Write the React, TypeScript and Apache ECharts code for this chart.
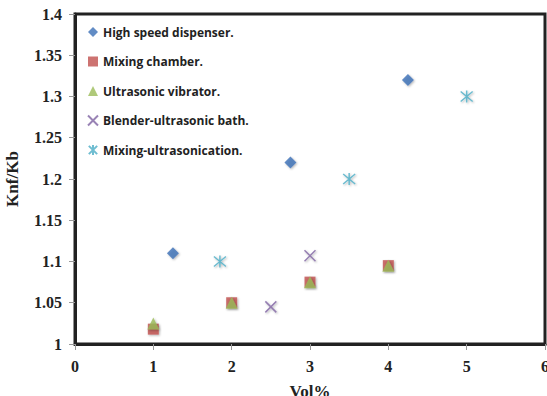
import React, { useEffect, useRef } from "react";
import * as echarts from "echarts";

const seriesNames = [
  "High speed dispenser.",
  "Mixing chamber.",
  "Ultrasonic vibrator.",
  "Blender-ultrasonic bath.",
  "Mixing-ultrasonication.",
];

const highSpeed: [number, number][] = [[1.25, 1.11], [2.75, 1.22], [4.25, 1.32]];
const mixingChamber: [number, number][] = [[1, 1.018], [2, 1.05], [3, 1.075], [4, 1.095]];
const ultrasonicVibrator: [number, number][] = [[1, 1.025], [2, 1.05], [3, 1.075], [4, 1.095]];
const blenderBath: [number, number][] = [[2.5, 1.045], [3, 1.107]];
const mixingUltra: [number, number][] = [[1.85, 1.1], [3.5, 1.2], [5, 1.3]];

const colors = ["#3b6fb6", "#c0504d", "#9bbb59", "#8064a2", "#4bacc6"];

const crossPath = "path://M0,0 L10,10 M10,0 L0,10";
const starPath = "path://M0,0 L10,10 M10,0 L0,10 M5,-1 L5,11";

export default function App() {
  const ref = useRef<HTMLDivElement>(null);
  useEffect(() => {
    const chart = echarts.init(ref.current!, null, { renderer: "svg" });
    const shadow = {
      shadowColor: "rgba(0,0,0,0.35)",
      shadowBlur: 2,
      shadowOffsetX: 1,
      shadowOffsetY: 1,
    };
    const datasets = [highSpeed, mixingChamber, ultrasonicVibrator, blenderBath, mixingUltra];
    const symbols = ["diamond", "rect", "triangle", crossPath, starPath];
    const sizes = [12, 11, 12, 11, 12];
    chart.setOption({
      animation: false,
      grid: {
        left: 75,
        right: 2,
        top: 14,
        bottom: 52,
        outerBoundsMode: "none",
        containLabel: false,
        show: true,
        borderColor: "#222",
        borderWidth: 3,
      },
      legend: {
        orient: "vertical",
        left: 82,
        top: 21,
        itemGap: 17.5,
        itemWidth: 10,
        itemHeight: 10,
        textStyle: {
          fontFamily: "Open Sans",
          fontWeight: "bold",
          fontSize: 12,
          color: "#222",
        },
        data: seriesNames,
      },
      xAxis: {
        type: "value",
        min: 0,
        max: 6,
        interval: 1,
        name: "Vol%",
        nameLocation: "middle",
        nameGap: 39,
        nameTextStyle: {
          fontFamily: "Liberation Serif",
          fontWeight: "bold",
          fontSize: 17,
          color: "#222",
        },
        splitLine: { show: false },
        axisLine: { show: true, lineStyle: { color: "#222", width: 3 } },
        axisTick: { show: true, length: 6, lineStyle: { color: "#999" } },
        axisLabel: {
          fontFamily: "Liberation Serif",
          fontWeight: "bold",
          fontSize: 16,
          color: "#222",
          margin: 14,
        },
      },
      yAxis: {
        type: "value",
        min: 1,
        max: 1.4,
        interval: 0.05,
        name: "Knf/Kb",
        nameLocation: "middle",
        nameGap: 54,
        nameTextStyle: {
          fontFamily: "Liberation Serif",
          fontWeight: "bold",
          fontSize: 17,
          color: "#222",
        },
        splitLine: { show: false },
        axisLine: { show: true, lineStyle: { color: "#222", width: 3 } },
        axisTick: { show: true, length: 6, lineStyle: { color: "#999" } },
        axisLabel: {
          fontFamily: "Liberation Serif",
          fontWeight: "bold",
          fontSize: 16,
          color: "#222",
          margin: 13,
        },
      },
      series: seriesNames.map((name, i) => {
        const stroke = i >= 3;
        return {
          name,
          type: "scatter",
          data: datasets[i],
          symbol: symbols[i],
          symbolSize: sizes[i],
          itemStyle: stroke
            ? { color: "transparent", borderColor: colors[i], borderWidth: 1.5, ...shadow }
            : { color: colors[i], ...shadow },
        };
      }),
    });
    return () => chart.dispose();
  }, []);
  return (
    <div
      ref={ref}
      style={{ position: "absolute", left: 0, top: 0, width: 547, height: 396 }}
    />
  );
}
